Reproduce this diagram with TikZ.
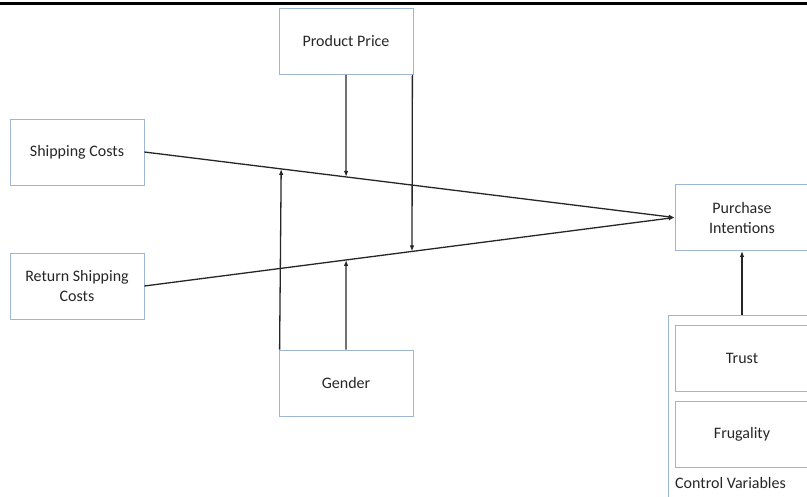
\documentclass[tikz,border=0pt]{standalone}
\usepackage{fontspec}
\setmainfont{Carlito}
\usetikzlibrary{arrows.meta}
\definecolor{boxblue}{HTML}{9DB6D4}
\definecolor{linegray}{HTML}{262626}
\definecolor{textgray}{HTML}{262626}
\tikzset{
	varbox/.style={draw=boxblue, line width=0.8pt, minimum width=134pt, minimum height=66pt, inner sep=0pt, align=center, text=textgray, font=\fontsize{16}{20}\selectfont},
	link/.style={draw=linegray, line width=1.3pt, -{Latex[length=6pt,width=4.5pt]}},
}

\begin{document}
\begin{tikzpicture}[x=1pt,y=-1pt]
	\useasboundingbox (0,0) rectangle (807,496);
	% Boxes and links:
	\draw[line width=3pt] (0,3.5) -- (807,3.5);
	\node[varbox](PP) at (346,41.5){Product Price};
	\node[varbox](SC) at (77,152){Shipping Costs};
	\node[varbox](RSC) at (77,286){Return Shipping\\Costs};
	\node[varbox](GD) at (346,383){Gender};
	\node[varbox](PI) at (742,217.5){Purchase\\Intentions};
	\node[draw=boxblue, line width=0.8pt, minimum width=148pt, minimum height=185pt](CV) at (742,407.5){};
	\node[varbox](TR) at (742,358){Trust};
	\node[varbox](FR) at (742,434){Frugality};
	\node[anchor=west, inner sep=0pt, text=textgray, font=\fontsize{16}{20}\selectfont](CVL) at (675,483){Control Variables};
	\draw[link] (SC.east) -- coordinate[pos=0.3804](M1) coordinate[pos=0.2580](M3) (PI.west);
	\draw[link] (RSC.east) -- coordinate[pos=0.5047](M2) coordinate[pos=0.3804](M4) (PI.west);
	\draw[link] (PP.south) -- (M1);
	\draw[link] ([xshift=-1pt]PP.south east) -- (M2);
	\draw[link] ([xshift=1pt]GD.north west) -- (M3);
	\draw[link] (GD.north) -- (M4);
	\draw[link] (CV.north) -- (PI.south);
\end{tikzpicture}
\end{document}
